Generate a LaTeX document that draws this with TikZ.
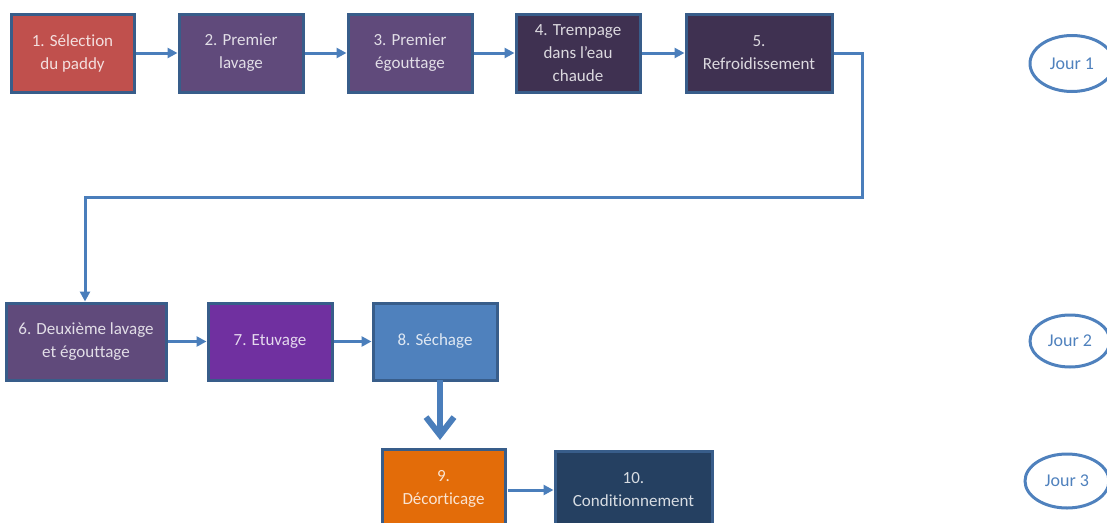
\documentclass[tikz,border=0pt]{standalone}
\usepackage{fontspec}
\setmainfont{Carlito}[Ligatures=NoCommon]
\usetikzlibrary{arrows.meta,shapes.geometric}
\definecolor{cred}{HTML}{C0504D}
\definecolor{cpurple}{HTML}{604A7B}
\definecolor{cdark}{HTML}{3F3151}
\definecolor{cviolet}{HTML}{7030A0}
\definecolor{cblue}{HTML}{4F81BD}
\definecolor{corange}{HTML}{E36C09}
\definecolor{cnavy}{HTML}{254061}
\definecolor{cborder}{HTML}{385D8A}
\definecolor{carrow}{HTML}{4A7EBB}
\tikzset{
  stepbox/.style={draw=cborder, line width=3pt, rectangle, align=center,
    text=white, text opacity=0.82, font=\fontsize{17}{23}\selectfont, inner sep=0pt},
  conn/.style={draw=carrow, line width=3pt, -{Triangle[length=10pt,width=10pt]}},
  bigconn/.style={draw=carrow, line width=6pt, -{Straight Barb[length=18pt,width=28pt,line width=6pt]}},
  jour/.style={draw=cblue, line width=3pt, ellipse, text=cblue,
    inner sep=0pt, font=\fontsize{18}{20}\selectfont}
}
\begin{document}
\begin{tikzpicture}[x=1pt,y=-1pt]
\useasboundingbox (0,0) rectangle (1107,522);
\clip (0,0) rectangle (1107,522);
% row 1
\node[stepbox, fill=cred, minimum width=123pt, minimum height=78pt] (s1) at (72.5,53) {1. Sélection\\du paddy};
\node[stepbox, fill=cpurple, minimum width=124pt, minimum height=78pt] (s2) at (241,53) {2. Premier\\lavage};
\node[stepbox, fill=cpurple, minimum width=124pt, minimum height=78pt] (s3) at (410,53) {3. Premier\\égouttage};
\node[stepbox, fill=cdark, minimum width=124pt, minimum height=78pt] (s4) at (578,53) {4. Trempage\\dans l’eau\\chaude};
\node[stepbox, fill=cdark, minimum width=146pt, minimum height=78pt] (s5) at (759,53) {5.\\Refroidissement};
% row 2
\node[stepbox, fill=cpurple, minimum width=160pt, minimum height=77pt] (s6) at (86,341.5) {6. Deuxième lavage\\et égouttage};
\node[stepbox, fill=cviolet, minimum width=124pt, minimum height=77pt] (s7) at (270,341.5) {7. Etuvage};
\node[stepbox, fill=cblue, minimum width=124pt, minimum height=77pt] (s8) at (435,341.5) {8. Séchage};
% row 3
\node[stepbox, fill=corange, minimum width=123pt, minimum height=78pt, anchor=north] (s9) at (443.5,448) {9.\\Décorticage};
\node[stepbox, fill=cnavy, minimum width=157pt, minimum height=76pt, anchor=north] (s10) at (633.5,450) {10.\\Conditionnement};
% jours
\node[jour, minimum width=84pt, minimum height=56pt] (j1) at (1072,63.5) {Jour 1};
\node[jour, minimum width=80pt, minimum height=52pt] (j2) at (1070,341) {Jour 2};
\node[jour, minimum width=84pt, minimum height=54pt] (j3) at (1067,481) {Jour 3};
% connectors
\draw[conn] (s1) -- (s2);
\draw[conn] (s2) -- (s3);
\draw[conn] (s3) -- (s4);
\draw[conn] (s4) -- (s5);
\coordinate (c1) at (862,53);
\coordinate (c2) at (862,197);
\coordinate (c3) at (85,197);
\draw[conn] (s5.east) -- (c1) -- (c2) -- (c3) -- (s6.north -| c3);
\draw[conn] (s6) -- (s7);
\draw[conn] (s7) -- (s8);
\coordinate (b1) at (440,380);
\draw[bigconn] (b1) -- ([yshift=8pt]b1 |- s9.north);
\coordinate (h1) at (508,490);
\draw[conn] (h1) -- (s10.west |- h1);
\end{tikzpicture}
\end{document}
